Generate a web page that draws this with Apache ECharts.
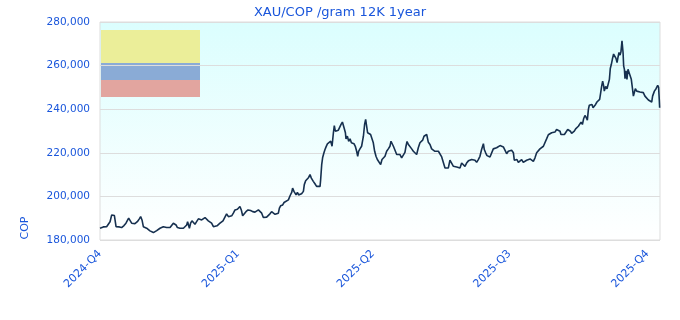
<!DOCTYPE html>
<html><head><meta charset="utf-8">
<script src="https://cdn.jsdelivr.net/npm/echarts@6/dist/echarts.min.js"></script>
<style>html,body{margin:0;padding:0;background:#fff}#c{width:680px;height:320px}</style>
</head><body><div id="c"></div>
<script>
const chartTitle = 'XAU/COP /gram 12K 1year';
const yAxisName = 'COP';
const yMin = 180000, yMax = 280000, yStep = 20000;
const quarterStarts = ['2024-10-01','2025-01-01','2025-04-01','2025-07-01','2025-10-01'];
const quarterLabels = ['2024-Q4','2025-Q1','2025-Q2','2025-Q3','2025-Q4'];
const startDate = '2024-10-01';
const endDate = '2025-10-09T08:00:00Z';
// [days since startDate, price in thousand COP]
const pricePoints = [
[0,185.4],[2.2,186.0],[3.3,185.4],[4.4,186.1],[5.6,185.4],[6.7,188.4],[7.8,191.5],[8.9,192.3],[9.6,191.2],[10.7,186.1],
[11.6,185.4],[12.9,186.0],[14.4,185.7],[16,186.6],[17.3,187.7],[19.1,190.0],[20,189.2],[21.1,187.7],[22.2,187.8],[23.3,187.5],
[24.9,188.4],[26.2,189.7],[27.1,190.7],[28,189.2],[28.9,186.1],[30,185.7],[31.1,185.4],[32.2,184.6],[33.3,184.2],[34.4,184.2],
[35.6,183.4],[36.7,183.8],[37.8,184.3],[38.9,184.6],[40,185.4],[41.1,186.0],[42.2,186.1],[43.3,185.7],[44.4,185.7],[45.6,185.4],
[46.7,185.7],[47.8,186.1],[48.9,187.7],[50,188.4],[50.7,186.9],[51.6,185.7],[52.4,186.1],[53.3,185.4],[54.4,185.9],[55.6,185.4],
[56.7,186.1],[57.8,186.9],[58.4,188.4],[59.6,185.4],[60.4,187.7],[61.3,188.8],[62.2,188.2],[63.3,187.2],[64.4,188.4],[65.6,189.7],
[66.7,190.0],[67.8,189.2],[68.9,188.4],[70,190.3],[71.1,189.7],[72.2,188.8],[73.3,188.4],[74.4,187.7],[75.6,186.1],[76.7,185.4],
[78,186.5],[80,187.7],[82,188.8],[83.3,189.7],[84.4,192.0],[85.6,190.7],[86.7,190.5],[87.8,191.1],[88.9,192.3],[90,193.8],
[90.7,193.0],[91.6,194.1],[92.4,194.6],[93.3,195.4],[94.2,193.8],[95.1,191.1],[96,192.0],[97.3,193.0],[98.7,193.8],[99.6,194.3],
[100.4,193.5],[101.8,193.0],[103.3,192.8],[104.4,193.4],[105.6,193.8],[106.7,193.0],[107.8,192.3],[108.9,190.3],[110,190.0],[111.1,190.5],
[112.2,191.1],[113.3,192.0],[114.4,193.0],[115.6,192.3],[116.7,191.8],[117.8,192.0],[118.9,192.3],[119.6,194.6],[120.4,195.7],[121.8,196.1],
[122.7,197.2],[124,198.0],[125.6,198.4],[126.7,200.3],[127.8,201.8],[128.4,203.8],[129.3,202.3],[130.2,203.0],[130.7,200.7],[131.6,201.8],
[132.4,200.7],[133.3,201.2],[134.4,201.2],[135.6,202.3],[136.2,205.4],[137.1,207.2],[138.2,208.0],[139.1,208.7],[140,210.0],[140.9,208.4],
[142.2,206.9],[143.3,205.8],[144.4,204.6],[145.6,204.3],[146.7,204.6],[147.1,207.7],[147.8,214.6],[148.4,217.7],[149.3,220.0],[150,221.5],
[150.7,222.7],[151.6,224.1],[152.7,224.8],[153.8,225.3],[154.7,223.0],[155.6,229.2],[156.2,232.5],[156.9,229.9],[157.8,230.7],[158.9,230.4],
[160,230.7],[160.7,233.0],[161.6,234.1],[162.2,234.5],[162.7,231.5],[163.6,229.2],[164,226.4],[164.9,227.6],[165.8,225.3],[166.7,226.4],
[167.6,224.6],[168.4,225.3],[169.3,224.2],[170.2,223.0],[171.1,220.7],[171.8,218.4],[172.4,220.7],[173.3,221.8],[174.4,223.0],[175.6,227.6],
[176.4,233.0],[177.1,235.3],[177.8,235.0],[178.4,229.2],[179.6,228.9],[180.4,228.4],[181.3,227.6],[182.2,224.6],[183.1,220.7],[184,218.4],
[184.9,216.9],[185.6,217.7],[186.2,216.1],[187.1,214.6],[188,216.9],[188.9,216.1],[190,218.4],[191.1,220.7],[192.2,221.8],[193.3,223.0],
[194,225.3],[194.7,224.8],[195.6,223.0],[196.7,222.3],[197.8,219.2],[198.9,218.4],[200,219.2],[201.1,217.7],[202.2,218.4],[203.3,220.2],
[204,223.0],[204.7,225.2],[205.6,223.8],[206.7,223.0],[207.8,221.8],[208.9,220.7],[210,220.0],[211.1,219.2],[212.2,222.3],[213.3,224.6],
[214.4,223.8],[215.1,225.8],[216,227.6],[216.9,228.4],[217.8,228.4],[218.9,224.8],[220,223.8],[221.1,221.8],[222.2,221.5],[223.3,220.7],
[224.4,221.2],[225.6,220.7],[226.7,220.0],[227.8,218.1],[228.9,217.2],[230,213.0],[231.1,212.6],[232.2,213.0],[233.3,216.6],[234.4,215.3],
[235.6,213.8],[236.7,214.6],[237.8,213.5],[238.9,214.1],[240,213.0],[241.1,215.3],[242.2,214.6],[243.3,213.8],[244.4,215.3],[245.6,216.3],
[246.7,216.9],[247.8,216.9],[248.9,216.9],[250,216.6],[251.1,215.6],[252.2,216.9],[253.3,218.4],[254.4,221.5],[255.6,224.2],[256.2,221.5],
[257.1,220.0],[258,218.7],[258.9,219.2],[260,218.1],[261.1,218.4],[262.2,221.8],[263.3,222.3],[264.4,222.3],[265.6,222.3],[266.7,223.3],
[267.8,223.6],[268.9,222.7],[270,221.8],[271.1,219.6],[272.2,220.7],[273.3,221.5],[274.4,221.2],[275.6,220.0],[276.2,216.6],[277.1,216.1],
[278,216.9],[278.9,215.6],[280,215.3],[281.1,216.9],[282.2,215.6],[283.3,216.1],[284.4,216.6],[285.6,216.1],[286.7,217.2],[287.8,216.6],
[288.9,216.1],[290,217.7],[291.1,220.0],[292.2,220.7],[293.3,221.8],[294.4,222.7],[295.6,223.0],[296.7,223.8],[297.8,226.5],[298.9,228.3],
[300,229.2],[301.1,229.2],[302.2,229.9],[303.3,229.5],[304.4,230.7],[305.6,231.3],[306.7,229.9],[307.3,228.4],[308.2,227.9],[309.6,228.4],
[310.4,228.7],[311.8,230.7],[312.7,229.9],[313.6,229.9],[314.4,228.9],[315.3,228.4],[316.2,229.9],[317.1,231.0],[318,231.5],[318.9,232.2],
[319.8,233.0],[320.7,234.1],[321.6,233.0],[322.4,235.6],[323.3,237.1],[324.2,236.1],[324.9,235.0],[325.6,239.9],[326.2,241.8],[327.1,242.7],
[328,242.2],[328.7,240.7],[329.6,241.4],[330.4,242.2],[331.3,243.3],[332.2,243.7],[333.1,244.5],[333.8,247.6],[334.4,250.4],[335.1,252.9],
[335.8,250.6],[336.2,248.3],[337.1,250.4],[338,249.4],[338.9,249.9],[339.6,253.7],[340.2,258.7],[340.9,260.6],[341.6,263.0],[342.4,265.3],
[343.3,266.0],[344,263.3],[344.7,261.4],[345.3,263.7],[346,266.0],[346.7,264.8],[347.3,266.3],[348,271.4],[348.7,266.0],[349.1,259.9],
[349.6,258.3],[350,254.0],[350.7,257.6],[351.3,253.7],[352,258.3],[352.7,256.8],[353.6,257.6],[354.2,253.7],[354.9,249.9],[355.6,246.0],
[356.2,246.0],[356.9,249.4],[357.8,248.3],[358.9,248.8],[360,247.9],[361.1,248.3],[362.2,247.6],[363.3,246.0],[364.4,245.3],[365.6,244.2],
[366.7,243.3],[367.8,243.3],[368.4,246.0],[369.6,248.3],[370.7,249.4],[371.8,251.0],[372.4,250.0],[372.9,243.7],[373.1,240.7]
];

const BLUE = '#1a56db';
const FONT = 'DejaVu Sans';
const DAY = 86400000;
const t0 = Date.parse(startDate);
const seriesData = pricePoints.map(p => [t0 + p[0] * DAY, Math.round(p[1] * 1000)]);
const qTimes = quarterStarts.map(s => Date.parse(s));

const chart = echarts.init(document.getElementById('c'), null, {renderer: 'canvas'});
chart.setOption({
  animation: false,
  backgroundColor: '#ffffff',
  title: {
    text: chartTitle, left: 'center', top: 1,
    textStyle: {color: BLUE, fontSize: 13, fontWeight: 'normal', fontFamily: FONT}
  },
  grid: {
    left: 100, right: 20, top: 22, bottom: 80, z: -5,
    show: true, borderColor: '#dddddd', borderWidth: 1,
    backgroundColor: new echarts.graphic.LinearGradient(0, 0, 0, 1, [
      {offset: 0, color: '#dbfefe'}, {offset: 1, color: '#ffffff'}
    ])
  },
  xAxis: {
    type: 'value', min: t0, max: Date.parse(endDate),
    axisLine: {show: false}, axisTick: {show: false},
    splitLine: {show: false},
    axisLabel: {
      customValues: qTimes, rotate: 45, color: BLUE, fontSize: 11, fontFamily: FONT, margin: 12,
      formatter: v => { const i = qTimes.indexOf(v); return i >= 0 ? quarterLabels[i] : ''; }
    }
  },
  yAxis: {
    type: 'value', min: yMin, max: yMax, interval: yStep,
    axisLine: {show: false}, axisTick: {show: false},
    splitLine: {lineStyle: {color: '#dddddd'}},
    axisLabel: {color: BLUE, fontSize: 10.5, fontFamily: FONT, margin: 10}
  },
  graphic: [
    {type: 'rect', z: -3, shape: {x: 101, y: 30, width: 99, height: 33}, style: {fill: '#ebee99'}},
    {type: 'rect', z: -3, shape: {x: 101, y: 63, width: 99, height: 17}, style: {fill: '#8aabd6'}},
    {type: 'rect', z: -3, shape: {x: 101, y: 80, width: 99, height: 17}, style: {fill: '#e2a59f'}},
    {type: 'text', x: 25, y: 228, rotation: Math.PI / 2,
     style: {text: yAxisName, fill: BLUE, fontSize: 11, fontFamily: FONT, textAlign: 'center', textVerticalAlign: 'middle'}}
  ],
  series: [{
    type: 'line', data: seriesData, showSymbol: false, symbol: 'none',
    lineStyle: {color: '#16304f', width: 1.6}, z: 3
  }]
});
</script></body></html>
